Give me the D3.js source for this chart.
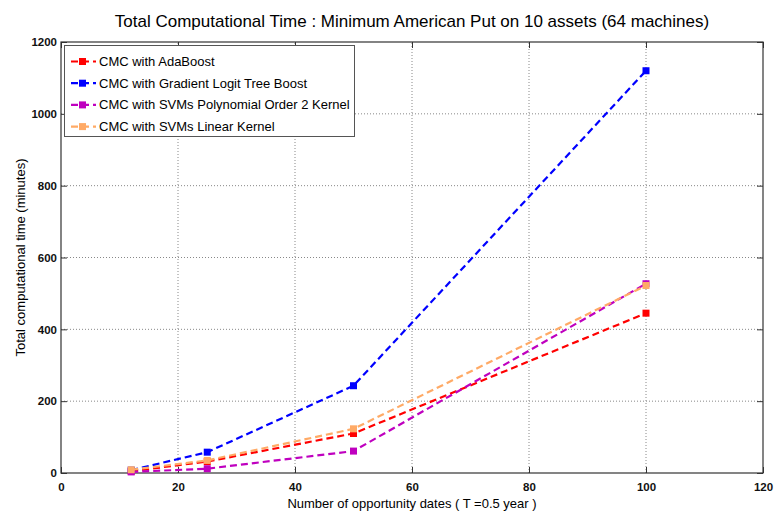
<!DOCTYPE html>
<html lang="en">
<head>
<meta charset="UTF-8">
<title>Total Computational Time</title>
<style>
  * { margin: 0; padding: 0; box-sizing: border-box; }
  body { background: #fff; font-family: 'Liberation Sans', Arial, sans-serif; }
  svg { display: block; }
  .tick text { font-size: 11.5px; font-weight: bold; fill: #111; }
  .grid line { stroke: #888; stroke-dasharray: 1,2; }
</style>
</head>
<body>
<svg width="776" height="514"></svg>
<script src="https://d3js.org/d3.v7.min.js"></script>
<script>
// Data
const dates = [12, 25, 50, 100];
const adaBoost = [5, 32, 110, 445];
const gradientBoost = [8, 58, 243, 1120];
const svmPoly = [3, 12, 61, 527];
const svmLinear = [9, 35, 123, 522];

const xTicks = [0, 20, 40, 60, 80, 100, 120];
const yTicks = [0, 200, 400, 600, 800, 1000, 1200];

const series = [
  { name: 'CMC with AdaBoost', values: adaBoost, color: '#ff0000' },
  { name: 'CMC with Gradient Logit Tree Boost', values: gradientBoost, color: '#0000ff' },
  { name: 'CMC with SVMs Polynomial Order 2 Kernel', values: svmPoly, color: '#bf00bf' },
  { name: 'CMC with SVMs Linear Kernel', values: svmLinear, color: '#ffaa66' },
];

const margin = { left: 61, right: 13, top: 42, bottom: 41 };
const width = 776, height = 514;
const svg = d3.select('svg');

const x = d3.scaleLinear().domain([0, 120]).range([margin.left, width - margin.right]);
const y = d3.scaleLinear().domain([0, 1200]).range([height - margin.bottom, margin.top]);
const fmt = d3.format('d');

// Grid
const grid = svg.append('g').attr('class', 'grid');
grid.selectAll('.gx').data(xTicks.slice(1, -1)).enter().append('line')
  .attr('x1', d => x(d)).attr('x2', d => x(d))
  .attr('y1', y(0)).attr('y2', y(1200));
grid.selectAll('.gy').data(yTicks.slice(1, -1)).enter().append('line')
  .attr('x1', x(0)).attr('x2', x(120))
  .attr('y1', d => y(d)).attr('y2', d => y(d));

// Axes (ticks pointing inward, MATLAB style)
const axisStyle = g => {
  g.select('.domain').remove();
  g.selectAll('.tick line').attr('stroke', '#333');
};
svg.append('g').attr('transform', `translate(0,${y(0)})`)
  .call(d3.axisBottom(x).tickValues(xTicks).tickSizeInner(-6).tickSizeOuter(0).tickPadding(10).tickFormat(fmt))
  .call(axisStyle);
svg.append('g').attr('transform', `translate(0,${y(1200)})`)
  .call(d3.axisTop(x).tickValues(xTicks).tickSizeInner(-6).tickSizeOuter(0).tickFormat(''))
  .call(axisStyle);
svg.append('g').attr('transform', `translate(${x(0)},0)`)
  .call(d3.axisLeft(y).tickValues(yTicks).tickSizeInner(-6).tickSizeOuter(0).tickPadding(4).tickFormat(fmt))
  .call(axisStyle);
svg.append('g').attr('transform', `translate(${x(120)},0)`)
  .call(d3.axisRight(y).tickValues(yTicks).tickSizeInner(-6).tickSizeOuter(0).tickFormat(''))
  .call(axisStyle);

svg.append('rect')
  .attr('x', x(0)).attr('y', y(1200))
  .attr('width', x(120) - x(0)).attr('height', y(0) - y(1200))
  .attr('fill', 'none').attr('stroke', '#333').attr('stroke-width', 1.2);

// Lines
const line = d3.line().x((d, i) => x(dates[i])).y(d => y(d));
series.forEach(s => {
  svg.append('path').datum(s.values)
    .attr('d', line)
    .attr('fill', 'none')
    .attr('stroke', s.color)
    .attr('stroke-width', 2.2)
    .attr('stroke-dasharray', '7,4');
  svg.append('g').selectAll('rect').data(s.values).enter().append('rect')
    .attr('x', (d, i) => x(dates[i]) - 3.5)
    .attr('y', d => y(d) - 3.5)
    .attr('width', 7).attr('height', 7)
    .attr('fill', s.color);
});

// Legend
const lg = svg.append('g');
lg.append('rect')
  .attr('x', 64.5).attr('y', 45.5).attr('width', 290).attr('height', 91)
  .attr('fill', '#fff').attr('stroke', '#555');
series.forEach((s, i) => {
  const ly = 61.5 + i * 21.7;
  lg.append('line')
    .attr('x1', 71).attr('x2', 96).attr('y1', ly).attr('y2', ly)
    .attr('stroke', s.color).attr('stroke-width', 2.2).attr('stroke-dasharray', '7,4');
  lg.append('rect').attr('x', 79).attr('y', ly - 3.5).attr('width', 7).attr('height', 7).attr('fill', s.color);
  lg.append('text').attr('x', 99).attr('y', ly + 4.5)
    .attr('font-size', 13).text(s.name);
});

// Titles
svg.append('text').attr('x', (x(0) + x(120)) / 2).attr('y', 27)
  .attr('text-anchor', 'middle').attr('font-size', 17)
  .text('Total Computational Time : Minimum American Put on 10 assets (64 machines)');
svg.append('text').attr('x', (x(0) + x(120)) / 2).attr('y', 508)
  .attr('text-anchor', 'middle').attr('font-size', 13)
  .text('Number of opportunity dates ( T =0.5 year )');
svg.append('text')
  .attr('transform', `translate(25,${(y(0) + y(1200)) / 2}) rotate(-90)`)
  .attr('text-anchor', 'middle').attr('font-size', 13)
  .text('Total computational time (minutes)');
</script>
</body>
</html>
